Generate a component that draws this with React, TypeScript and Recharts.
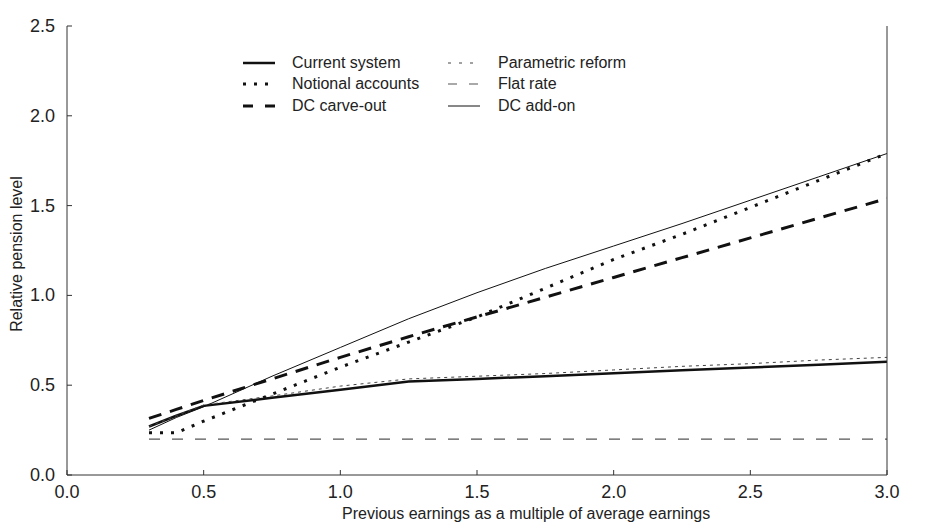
import { LineChart, Line, XAxis, YAxis } from "recharts";

const earnings = [0.3, 0.4, 0.5, 0.75, 1.0, 1.25, 1.5, 1.75, 2.0, 2.25, 2.5, 2.75, 3.0];

const currentSystem = [0.27, 0.33, 0.385, 0.43, 0.475, 0.52, 0.535, 0.55, 0.567, 0.583, 0.598, 0.614, 0.63];
const parametricReform = [0.27, 0.33, 0.39, 0.44, 0.495, 0.535, 0.55, 0.565, 0.585, 0.605, 0.62, 0.64, 0.655];
const notionalAccounts = [0.235, 0.235, 0.3, 0.45, 0.6, 0.74, 0.88, 1.04, 1.2, 1.34, 1.49, 1.64, 1.79];
const flatRate = [0.2, 0.2, 0.2, 0.2, 0.2, 0.2, 0.2, 0.2, 0.2, 0.2, 0.2, 0.2, 0.2];
const dcCarveOut = [0.315, 0.365, 0.415, 0.535, 0.655, 0.77, 0.88, 0.99, 1.1, 1.21, 1.32, 1.43, 1.54];
const dcAddOn = [0.25, 0.32, 0.38, 0.55, 0.71, 0.87, 1.015, 1.15, 1.275, 1.4, 1.53, 1.66, 1.79];

const xTicks = [0, 0.5, 1.0, 1.5, 2.0, 2.5, 3.0];
const yTicks = [0, 0.5, 1.0, 1.5, 2.0, 2.5];

const series = [
  { key: "current", name: "Current system", values: currentSystem, stroke: "#111", width: 2.5, dash: undefined, legendDash: undefined },
  { key: "parametric", name: "Parametric reform", values: parametricReform, stroke: "#444", width: 1, dash: "3 4", legendDash: "3 8" },
  { key: "notional", name: "Notional accounts", values: notionalAccounts, stroke: "#111", width: 3, dash: "3 8", legendDash: "3 8" },
  { key: "flat", name: "Flat rate", values: flatRate, stroke: "#555", width: 1.2, dash: "11 12", legendDash: "9 12" },
  { key: "carve", name: "DC carve-out", values: dcCarveOut, stroke: "#111", width: 3, dash: "13 9", legendDash: "10 12" },
  { key: "addon", name: "DC add-on", values: dcAddOn, stroke: "#111", width: 1, dash: undefined, legendDash: undefined },
];

const data = earnings.map((x, i) => {
  const row: Record<string, number> = { x };
  series.forEach((s) => (row[s.key] = s.values[i]));
  return row;
});

const FONT = "'Liberation Sans', Arial, sans-serif";
const AXIS = "#333";
const TEXT = "#222";
const TICK_FONT = 18;

const LeftTick = (props: any) => {
  const { x, y, payload } = props;
  return (
    <g>
      <line x1={x + 12} x2={x + 17} y1={y} y2={y} stroke={AXIS} strokeWidth={1} />
      <text x={x} y={y} textAnchor="end" dominantBaseline="central" fontSize={TICK_FONT} fill={TEXT} fontFamily={FONT}>
        {Number(payload.value).toFixed(1)}
      </text>
    </g>
  );
};

const RightTick = (props: any) => {
  const { x, y, payload } = props;
  return (
    <g>
      <line x1={x - 10} x2={x - 15} y1={y} y2={y} stroke={AXIS} strokeWidth={1} />
      <text x={x} y={y} textAnchor="start" dominantBaseline="central" fontSize={TICK_FONT} fill={TEXT} fontFamily={FONT}>
        {Number(payload.value).toFixed(1)}
      </text>
    </g>
  );
};

const BottomTick = (props: any) => {
  const { x, y, payload } = props;
  return (
    <g>
      <line x1={x} x2={x} y1={y - 17} y2={y - 22} stroke={AXIS} strokeWidth={1} />
      <text x={x} y={y} textAnchor="middle" dominantBaseline="central" fontSize={TICK_FONT} fill={TEXT} fontFamily={FONT}>
        {Number(payload.value).toFixed(1)}
      </text>
    </g>
  );
};

const legendCols = [
  { sampleX: 243, textX: 292, items: [series[0], series[2], series[4]] },
  { sampleX: 448, textX: 498, items: [series[1], series[3], series[5]] },
];
const legendRows = [63, 84, 106];

export default function App() {
  return (
    <div style={{ position: "absolute", left: 0, top: 0, width: 925, height: 522, background: "#fff", fontFamily: FONT }}>
      <LineChart width={925} height={522} data={data} margin={{ top: 26, right: 0, bottom: 0, left: 0 }}>
        <XAxis
          dataKey="x"
          type="number"
          domain={[0, 3]}
          ticks={xTicks}
          height={47}
          tickSize={0}
          tickMargin={17}
          tick={<BottomTick />}
          stroke={AXIS}
          allowDataOverflow
        />
        <XAxis xAxisId="top" orientation="top" type="number" domain={[0, 3]} height={0} tick={false} tickLine={false} stroke={AXIS} />
        <YAxis
          yAxisId="left"
          type="number"
          domain={[0, 2.5]}
          ticks={yTicks}
          width={67}
          tickSize={0}
          tickMargin={12}
          tick={<LeftTick />}
          stroke={AXIS}
        />
        <YAxis
          yAxisId="right"
          orientation="right"
          type="number"
          domain={[0, 2.5]}
          ticks={yTicks}
          width={38}
          tickSize={0}
          tickMargin={10}
          tick={<RightTick />}
          stroke={AXIS}
        />
        {series.map((s) => (
          <Line
            key={s.key}
            yAxisId="left"
            type="linear"
            dataKey={s.key}
            name={s.name}
            stroke={s.stroke}
            strokeWidth={s.width}
            strokeDasharray={s.dash}
            dot={false}
            activeDot={false}
            isAnimationActive={false}
          />
        ))}
      </LineChart>

      {/* legend */}
      {legendCols.map((col) =>
        col.items.map((s, i) => (
          <div key={s.key}>
            <svg style={{ position: "absolute", left: col.sampleX, top: legendRows[i] - 5 }} width={32} height={10}>
              <line x1={0} x2={32} y1={5} y2={5} stroke={s.stroke} strokeWidth={s.width} strokeDasharray={s.legendDash} />
            </svg>
            <div
              style={{
                position: "absolute",
                left: col.textX,
                top: legendRows[i] - 10,
                fontSize: 16,
                lineHeight: "20px",
                color: TEXT,
                whiteSpace: "nowrap",
              }}
            >
              {s.name}
            </div>
          </div>
        ))
      )}

      {/* axis titles */}
      <div
        style={{
          position: "absolute",
          left: 342,
          top: 504,
          fontSize: 16,
          lineHeight: "20px",
          color: TEXT,
          whiteSpace: "nowrap",
        }}
      >
        Previous earnings as a multiple of average earnings
      </div>
      <div
        style={{
          position: "absolute",
          left: 17,
          top: 254,
          fontSize: 16,
          lineHeight: "20px",
          color: TEXT,
          whiteSpace: "nowrap",
          transform: "translate(-50%, -50%) rotate(-90deg)",
        }}
      >
        Relative pension level
      </div>
    </div>
  );
}
